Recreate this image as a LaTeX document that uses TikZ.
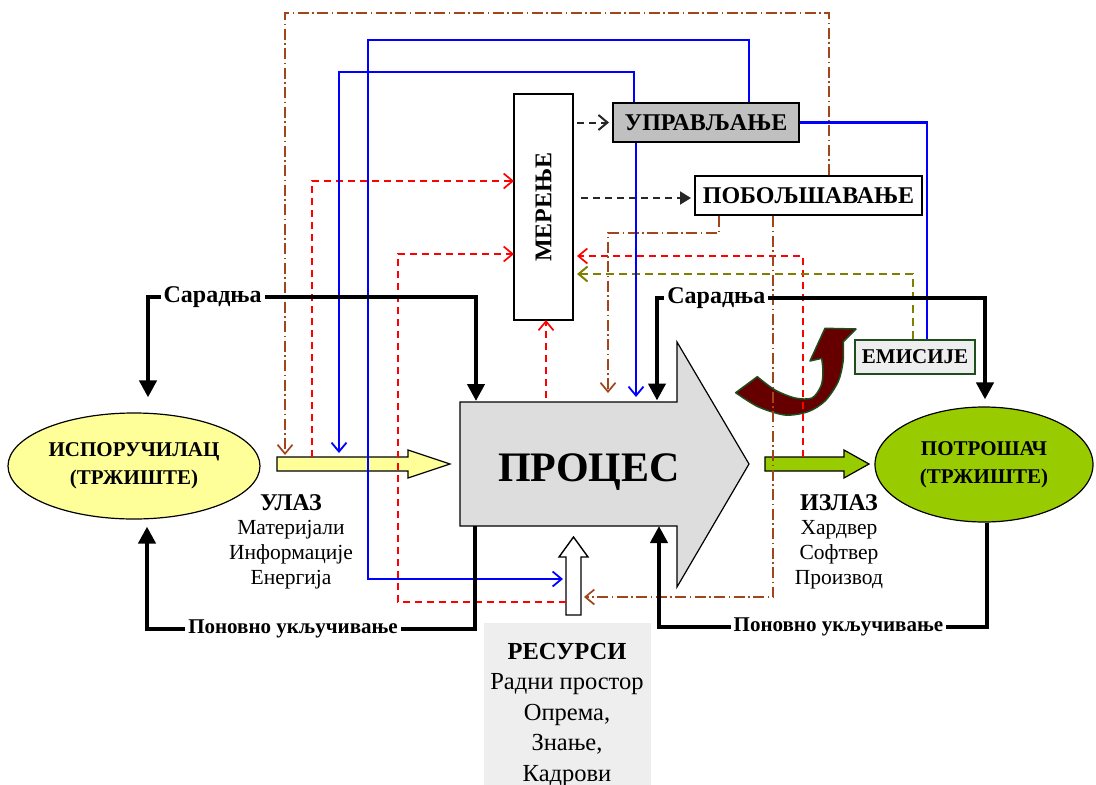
\documentclass[tikz,border=0pt]{standalone}
\usepackage{fontspec}
\setmainfont{Liberation Serif}
\usetikzlibrary{arrows.meta,shapes.geometric}
\definecolor{brn}{HTML}{A0461A}
\definecolor{olv}{HTML}{808000}
\definecolor{ylw}{HTML}{FFFF99}
\definecolor{grn}{HTML}{99CC00}
\definecolor{prc}{HTML}{DDDDDD}
\definecolor{upg}{HTML}{C0C0C0}
\definecolor{lgr}{HTML}{EEEEEE}
\definecolor{dkr}{HTML}{660000}
\definecolor{dkg}{HTML}{1E4D1E}
\tikzset{
  bigtri/.tip={Triangle[length=17pt,width=17pt]},
  vb/.tip={Straight Barb[length=9pt,width=15pt]},
  smalltri/.tip={Triangle[length=11pt,width=13pt]},
  blk/.style={line width=4.2pt,black},
  rd/.style={red,line width=1.7pt,dash pattern=on 7pt off 5pt,-{vb}},
  bl/.style={blue,line width=1.8pt},
  br/.style={brn,line width=1.7pt,dash pattern=on 11pt off 3.5pt on 1.5pt off 3.5pt},
  od/.style={olv,line width=2pt,dash pattern=on 8pt off 5pt,-{vb}},
  kd/.style={black!85,line width=2pt,dash pattern=on 7pt off 5pt},
  lab/.style={font=\fontsize{21}{25}\selectfont\bfseries,fill=white,inner xsep=3pt,inner ysep=1pt},
  labbig/.style={lab,font=\fontsize{24}{28}\selectfont\bfseries},
  boxt/.style={font=\fontsize{24}{28}\selectfont\bfseries,inner sep=0pt},
  ghost/.style={inner sep=0pt,outer sep=0pt},
  ell/.style={ellipse,draw,line width=1.2pt,inner sep=0pt,align=center,font=\fontsize{21}{28}\selectfont\bfseries},
  lst/.style={align=center,inner sep=0pt,font=\fontsize{21.5}{24.7}\selectfont}
}
\begin{document}
\begin{tikzpicture}[x=1pt,y=-1pt]
\useasboundingbox (0,0) rectangle (1096,785);
% ---------- main shapes ----------
\node[ell,fill=ylw,minimum width=252pt,minimum height=106pt] (sup) at (134,466) {ИСПОРУЧИЛАЦ\\(ТРЖИШТЕ)};
\node[ell,fill=grn,minimum width=218pt,minimum height=115pt] (cons) at (984,464.5) {ПОТРОШАЧ\\(ТРЖИШТЕ)};
% process arrow
\node[ghost,minimum width=217pt,minimum height=124pt] (proc) at (568.5,464) {};
\filldraw[fill=prc,draw=black,line width=1.2pt] (460,402) -- (677,402) -- (677,342) -- (749,464) -- (677,587) -- (677,526) -- (460,526) -- cycle;
\node[font=\fontsize{42}{50}\selectfont\bfseries,inner sep=0pt] (proctext) at (589,472) {ПРОЦЕС};
% input / output / resource arrows
\node[ghost,minimum width=173pt,minimum height=14pt] (inarr) at (363.5,464) {};
\filldraw[fill=ylw,draw=black,line width=1.2pt] (277,457) -- (408,457) -- (408,450) -- (450,464) -- (408,478) -- (408,471) -- (277,471) -- cycle;
\node[ghost,minimum width=104pt,minimum height=14pt] (outarr) at (817,464) {};
\filldraw[fill=grn,draw=black,line width=1.2pt] (765,457) -- (844,457) -- (844,450) -- (869,464) -- (844,478) -- (844,471) -- (765,471) -- cycle;
\node[ghost,minimum width=15pt,minimum height=78pt] (resarr) at (573.5,576) {};
\filldraw[fill=white,draw=black,line width=1.4pt] (566,615) -- (566,557) -- (559,557) -- (573.5,537) -- (588,557) -- (581,557) -- (581,615) -- cycle;
% resources box
\node[fill=lgr,ghost,minimum width=167pt,minimum height=162pt,anchor=north west] (res) at (484,623) {};
\node[lst,anchor=north,font=\fontsize{24.5}{30.4}\selectfont] (restext) at (567,643) {\textbf{РЕСУРСИ}\\Радни простор\\Опрема,\\Знање,\\Кадрови};
% labels input/output
\node[lst,anchor=north] (inlab) at (291,494) {\textbf{\fontsize{24}{24.7}\selectfont УЛАЗ}\\Материјали\\Информације\\Енергија};
\node[lst,anchor=north] (outlab) at (839,494) {\textbf{\fontsize{24}{24.7}\selectfont ИЗЛАЗ}\\Хардвер\\Софтвер\\Производ};
% boxes
\node[draw,line width=1.6pt,fill=white,ghost,minimum width=59pt,minimum height=226pt] (mer) at (543.5,207) {};
\node[boxt,rotate=90] (mertext) at (mer.center) {МЕРЕЊЕ};
\node[boxt,draw,line width=2pt,fill=upg,minimum width=186pt,minimum height=39pt] (upr) at (706,122.5) {УПРАВЉАЊЕ};
\node[boxt,draw,line width=2pt,fill=white,minimum width=227pt,minimum height=39pt] (pob) at (808.5,195.5) {ПОБОЉШАВАЊЕ};
\node[boxt,font=\fontsize{21}{25}\selectfont\bfseries,draw=dkg,line width=2pt,fill=lgr,minimum width=120pt,minimum height=34pt] (emi) at (915,357) {ЕМИСИЈЕ};
% curved arrow
\filldraw[fill=dkr,draw=dkg,line width=1.5pt,line join=round]
  (735.7,392.7) -- (757.3,376.7)
  -- plot[smooth] coordinates {(757.3,376.7) (775,390) (795,398) (812,398) (821,386) (823,372) (821.7,358.3)}
  -- (810,361) -- (825,328.3) -- (856,329) -- (843.3,341.7)
  -- plot[smooth] coordinates {(843.3,341.7) (843,362) (838,382) (825,401) (808,411.7) (785,415) (758,406.7) (735.7,392.7)}
  -- cycle;
% ---------- dashed black ----------
\draw[kd,-{vb},shorten <=4pt,shorten >=3pt] (mer.east |- upr.west) -- (upr.west);
\draw[kd,-{smalltri},shorten <=8pt,shorten >=3pt] (mer.east |- 0,198) -- (pob.west |- 0,198);
% ---------- red dashed ----------
\draw[rd] (inarr.north -| 312,0) |- (mer.west |- 0,181);
\draw[rd] (resarr.west |- 0,602) -| (398,254) -- (mer.west |- 0,254);
\draw[rd,shorten <=4pt] (proc.north -| 546,0) -- (mer.south -| 546,0);
\draw[rd,shorten >=4pt] (outarr.north -| 803,0) |- (mer.east |- 0,256);
\draw[od,shorten >=4pt] (emi.north -| 913,0) |- (mer.east |- 0,274);
% ---------- brown dash-dot ----------
\draw[br,-{vb},shorten >=2pt] (pob.north -| 829,0) |- (285,13) -- (inarr.north -| 285,0);
\draw[br,-{vb},shorten >=9pt] (pob.south -| 719,0) |- (608,233) -- (proc.north -| 608,0);
\draw[br,-{vb},shorten >=3pt] (pob.south -| 773,0) |- (resarr.east |- 0,597);
% ---------- blue ----------
\draw[bl,-{vb},shorten >=3pt] (upr.north -| 749,0) |- (368,40) |- (resarr.west |- 0,579);
\draw[bl,-{vb},shorten >=4pt] (upr.north -| 634,0) |- (339,72) -- (inarr.north -| 339,0);
\draw[bl,-{vb},shorten >=5pt] (upr.south -| 636,0) -- (proc.north -| 636,0);
\draw[bl,line width=2.6pt] (upr.east) -| (emi.north -| 927,0);
% ---------- black thick ----------
\draw[blk,{bigtri}-{bigtri},shorten <=15pt,shorten >=1pt] (sup.north -| 148,0) -- (148,297) -- node[labbig,pos=0.197]{Сарадња} (476,297) -- (proc.north -| 476,0);
\draw[blk,{bigtri}-{bigtri},shorten <=1.5pt,shorten >=7pt] (proc.north -| 657,0) -- (657,298) -- node[labbig,pos=0.181]{Сарадња} (985,298) -- (cons.north -| 985,0);
\draw[blk,-{bigtri},shorten >=7pt] (proc.south -| 475,0) -- (475,629) -- node[lab,pos=0.555]{Поновно укључивање} (147,629) -- (sup.south -| 147,0);
\draw[blk,-{bigtri}] (cons.south -| 987,0) -- (987,627) -- node[lab,pos=0.453]{Поновно укључивање} (659,627) -- (proc.south -| 659,0);
\end{tikzpicture}
\end{document}
